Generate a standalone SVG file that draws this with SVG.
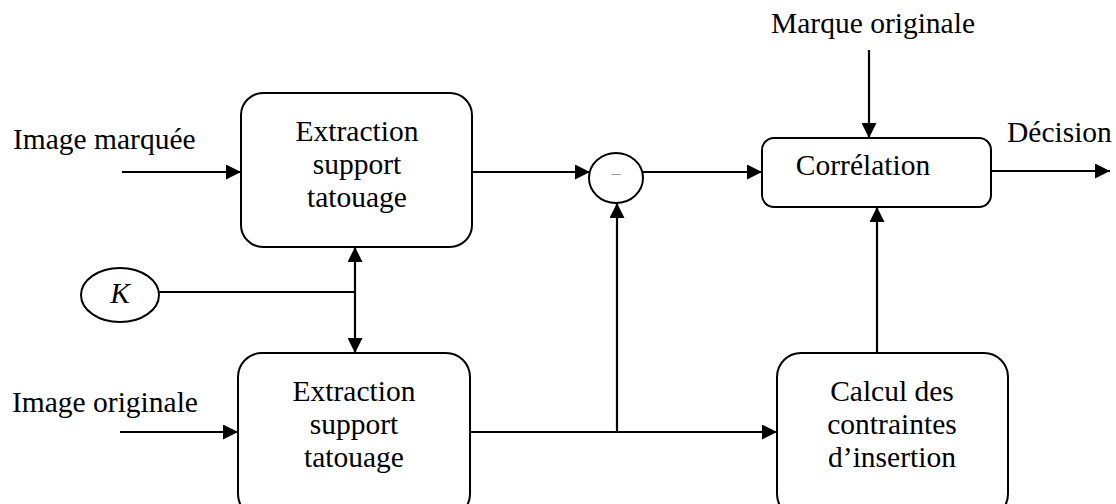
<svg xmlns="http://www.w3.org/2000/svg" width="1116" height="504" viewBox="0 0 1116 504">
<style>
.box{fill:#fff;stroke:#000;stroke-width:2}
.ln{fill:none;stroke:#000;stroke-width:2.2}
.t{font-family:"Liberation Serif","Times New Roman",serif;font-size:29.5px;fill:#000}
.c{text-anchor:middle}
</style>
<defs>
<marker id="ah" viewBox="0 0 15 15" refX="15" refY="7.5" markerWidth="15" markerHeight="15" markerUnits="userSpaceOnUse" orient="auto-start-reverse">
<path d="M0,0 L15,7.5 L0,15 Z" fill="#000"/>
</marker>
</defs>
<rect width="1116" height="504" fill="#fff"/>
<g id="connectors">
<line class="ln" x1="122" y1="172" x2="241" y2="172" marker-end="url(#ah)"/>
<line class="ln" x1="120" y1="432" x2="238" y2="432" marker-end="url(#ah)"/>
<line class="ln" x1="472" y1="172" x2="590" y2="172" marker-end="url(#ah)"/>
<line class="ln" x1="643" y1="172" x2="762" y2="172" marker-end="url(#ah)"/>
<line class="ln" x1="991" y1="171" x2="1110" y2="171" marker-end="url(#ah)"/>
<line class="ln" x1="869" y1="50" x2="869" y2="138" marker-end="url(#ah)"/>
<line class="ln" x1="877" y1="353" x2="877" y2="207" marker-end="url(#ah)"/>
<line class="ln" x1="470" y1="432" x2="777" y2="432" marker-end="url(#ah)"/>
<line class="ln" x1="617" y1="432" x2="617" y2="203" marker-end="url(#ah)"/>
<line class="ln" x1="159" y1="292" x2="355" y2="292"/>
<line class="ln" x1="355" y1="247" x2="355" y2="353" marker-start="url(#ah)" marker-end="url(#ah)"/>
</g>
<g id="labels">
<text class="t" x="13" y="149">Image marquée</text>
<text class="t" x="12" y="412">Image originale</text>
<text class="t c" x="873" y="33">Marque originale</text>
<text class="t" x="1007" y="142">Décision</text>
</g>
<g id="extraction1">
<rect class="box" x="241" y="93" width="231" height="154" rx="22"/>
<text class="t c" x="357" y="141">Extraction</text>
<text class="t c" x="357" y="174">support</text>
<text class="t c" x="357" y="207">tatouage</text>
</g>
<g id="extraction2">
<rect class="box" x="238" y="353" width="232" height="165" rx="24"/>
<text class="t c" x="354" y="401">Extraction</text>
<text class="t c" x="354" y="434">support</text>
<text class="t c" x="354" y="467">tatouage</text>
</g>
<g id="calcul">
<rect class="box" x="777" y="353" width="231" height="165" rx="24"/>
<text class="t c" x="892" y="401">Calcul des</text>
<text class="t c" x="892" y="434">contraintes</text>
<text class="t c" x="892" y="467">d’insertion</text>
</g>
<g id="correlation">
<rect class="box" x="762" y="138" width="229" height="69" rx="12"/>
<text class="t c" x="863" y="175">Corrélation</text>
</g>
<g id="soustraction">
<ellipse class="box" cx="616" cy="178" rx="27" ry="25"/>
<text x="616" y="173" text-anchor="middle" font-family="Liberation Serif, serif" font-size="18" fill="#999">_</text>
</g>
<g id="cle">
<ellipse class="box" cx="120" cy="295" rx="39" ry="27"/>
<text class="t c" x="120" y="303" font-style="italic">K</text>
</g>
</svg>
